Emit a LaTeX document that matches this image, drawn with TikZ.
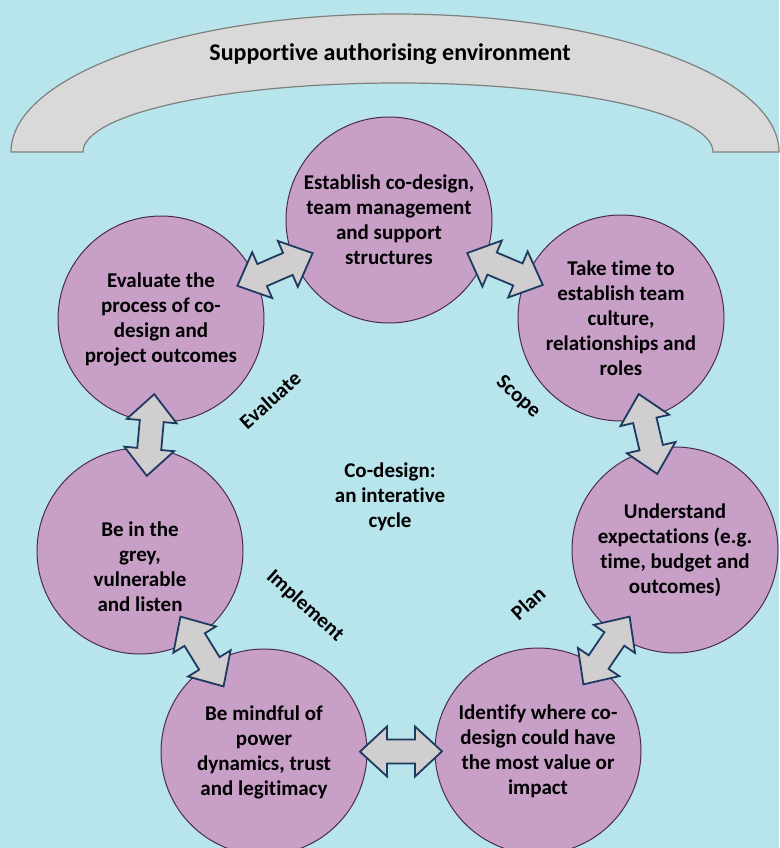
\documentclass[tikz,border=0pt]{standalone}
\usepackage{fontspec}
\setmainfont{Carlito}[Ligatures=NoCommon]
\usepackage{xcolor}
\usepackage{tikz}

\definecolor{bgblue}{HTML}{B8E4EC}
\definecolor{stagefill}{HTML}{C79FC7}
\definecolor{stageedge}{HTML}{4B2C50}
\definecolor{archfill}{HTML}{D9D9D9}
\definecolor{archedge}{HTML}{7F7F7F}
\definecolor{blockfill}{HTML}{D0CECE}
\definecolor{blockedge}{HTML}{1F3A60}

\newcommand{\stagefont}{\bfseries\fontsize{21}{25}\selectfont}

\tikzset{
  stage/.style = {circle, draw=stageedge, line width=1pt, fill=stagefill, minimum size=206pt, inner sep=0pt, align=center, font=\stagefont},
  stage text/.style = {align=center, font=\stagefont},
  phase/.style = {font=\stagefont},
  arch/.style = {draw=archedge, line width=1.2pt, fill=archfill},
  double block/.pic = {
    \draw[draw=blockedge, line width=1.8pt, fill=blockfill, line join=miter]
      (-41,0) -- (-14,25) -- (-14,12) -- (14,12) -- (14,25) -- (41,0)
      -- (14,-25) -- (14,-12) -- (-14,-12) -- (-14,-25) -- cycle;
  }
}

\begin{document}
\begin{tikzpicture}[x=1pt, y=1pt]
  \fill[bgblue] (0,0) rectangle (779,-848);
  \useasboundingbox (0,0) rectangle (779,-848);

  \draw[arch] (11,-152) arc[start angle=180, end angle=0, x radius=384, y radius=138]
    -- (713,-152) arc[start angle=0, end angle=180, x radius=315, y radius=69] -- cycle;
  \node[font=\bfseries\fontsize{24}{28}\selectfont] (env) at (390,-54) {Supportive authorising environment};

  \node[stage] (s1) at (389,-220) {Establish co-design,\\team management\\and support\\structures};
  \node[stage] (s2) at (621,-318) {Take time to\\establish team\\culture,\\relationships and\\roles};
  \node[stage] (s3) at (675,-550) {Understand\\expectations (e.g.\\time, budget and\\outcomes)};
  \node[stage] (s4) at (538,-751) {Identify where co-\\design could have\\the most value or\\impact};
  \node[stage] (s5) at (264,-752) {Be mindful of\\power\\dynamics, trust\\and legitimacy};
  \node[stage] (s6) at (140,-551) {};
  \node[stage text] (s6 text) at (140,-567) {Be in the\\grey,\\vulnerable\\and listen};
  \node[stage] (s7) at (161,-319) {Evaluate the\\process of co-\\design and\\project outcomes};

  \node[stage text] (cycle) at (390,-497) {Co-design:\\an interative\\cycle};

  \node[phase, rotate=42] (evaluate) at (270,-400) {Evaluate};
  \node[phase, rotate=-42] (scope) at (518,-397) {Scope};
  \node[phase, rotate=-42] (implement) at (305,-606) {Implement};
  \node[phase, rotate=42] (plan) at (528,-603) {Plan};

  \foreach \a/\b in {s7/s1, s1/s2, s2/s3, s3/s4, s4/s5, s5/s6, s6/s7}
    \path (\a) -- (\b) pic[midway, sloped] {double block};

\end{tikzpicture}
\end{document}
